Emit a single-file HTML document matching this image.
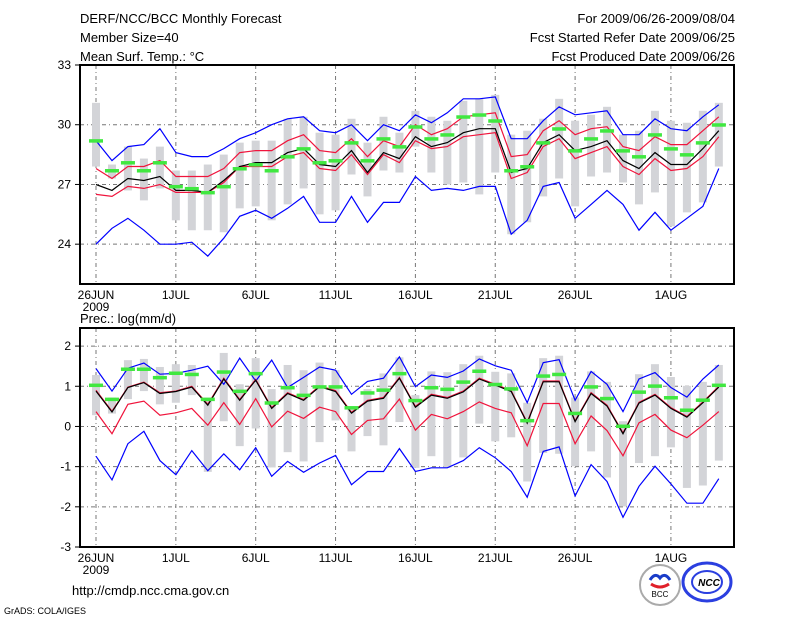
<!DOCTYPE html>
<html><head><meta charset="utf-8"><style>
body{margin:0;background:#fff;}
svg{display:block;}
text{font-family:"Liberation Sans",sans-serif;fill:#000;}
</style></head><body>
<svg id="chart" width="800" height="618" viewBox="0 0 800 618">
<g font-size="13">
<text x="80" y="23">DERF/NCC/BCC Monthly Forecast</text>
<text x="80" y="42">Member Size=40</text>
<text x="80" y="61">Mean Surf. Temp.: °C</text>
<text x="735" y="23" text-anchor="end">For 2009/06/26-2009/08/04</text>
<text x="735" y="42" text-anchor="end">Fcst Started Refer Date 2009/06/25</text>
<text x="735" y="61" text-anchor="end">Fcst Produced Date 2009/06/26</text>
</g>
<text x="80" y="323" font-size="13">Prec.: log(mm/d)</text>
<text x="72" y="595" font-size="13">http://cmdp.ncc.cma.gov.cn</text>
<text x="4" y="614" font-size="9">GrADS: COLA/IGES</text>
<g>
<circle cx="660" cy="585" r="20" fill="#fff" stroke="#aaa" stroke-width="2"/>
<path d="M650 580 q5 -8 10 -2 q5 -6 10 2" stroke="#1a3cc8" stroke-width="3" fill="none"/>
<path d="M651 584 q9 6 18 0" stroke="#e0202a" stroke-width="3" fill="none"/>
<text x="660" y="597" font-size="8" text-anchor="middle" font-family="Liberation Serif,serif">BCC</text>
</g>
<g>
<ellipse cx="707" cy="582" rx="24" ry="19" fill="none" stroke="#2b3fe0" stroke-width="3"/>
<ellipse cx="707" cy="582" rx="15" ry="11" fill="none" stroke="#2b3fe0" stroke-width="2"/>
<text x="709" y="586" font-size="10" font-weight="bold" fill="#2b3fe0" text-anchor="middle" font-style="italic">NCC</text>
</g>
</svg>
<script>
const days = ["26JUN","","","","","1JUL","","","","","6JUL","","","","","11JUL","","","","","16JUL","","","","","21JUL","","","","","26JUL","","","","","","1AUG","","","",""];
const tTicks = [33,30,27,24];
const pTicks = [2,1,0,-1,-2,-3];
const tBlueUp = [29.2,28.2,28.9,29.0,29.8,28.6,28.4,28.4,28.8,29.3,29.6,30.0,30.3,30.4,29.7,29.6,30.0,29.2,30.0,29.7,30.5,30.1,30.6,31.3,31.3,31.4,29.3,29.3,30.2,30.9,30.5,30.6,30.7,29.5,29.5,30.3,29.8,29.7,30.4,31.0];
const tRedUp = [27.8,27.3,27.9,27.9,28.2,27.4,27.4,27.4,27.8,28.6,28.7,28.7,29.2,29.5,28.7,28.6,29.3,28.4,29.2,28.9,30.0,29.5,29.8,30.4,30.5,30.6,28.4,28.5,29.7,30.2,29.5,29.8,29.9,28.9,28.7,29.4,29.0,29.0,29.7,30.4];
const tMean = [27.0,26.7,27.3,27.2,27.4,26.7,26.7,26.6,27.2,27.9,28.1,28.1,28.6,28.8,28.0,27.9,28.7,27.6,28.6,28.3,29.4,28.9,29.1,29.6,29.8,29.8,27.6,27.8,29.1,29.5,28.7,28.9,29.2,28.2,27.8,28.6,28.0,28.0,28.8,29.7];
const tRedLo = [26.5,26.4,26.9,26.8,27.0,26.6,26.6,26.6,27.1,27.9,27.9,27.9,28.4,28.6,27.8,27.7,28.5,27.5,28.5,28.1,29.2,28.8,28.9,29.4,29.5,29.6,27.3,27.6,28.9,29.3,28.3,28.6,28.9,27.9,27.5,28.3,27.7,27.8,28.4,29.4];
const tBlueLo = [24.0,24.8,25.3,24.7,24.0,24.0,24.1,23.4,24.3,25.4,25.7,25.3,25.8,26.4,25.1,25.1,26.4,25.1,26.1,26.1,27.4,26.7,26.8,26.7,26.9,26.9,24.5,25.2,26.9,27.1,25.3,26.0,26.7,26.0,24.7,25.6,24.7,25.3,25.9,27.8];
const tBarHi = [31.1,28.0,28.9,28.3,28.9,27.7,27.7,28.0,28.5,29.1,29.2,29.2,30.3,30.4,29.6,29.5,30.3,29.1,30.4,29.6,30.7,30.4,30.2,31.2,31.3,31.5,29.5,29.7,30.3,31.3,30.2,30.5,30.9,29.5,29.7,30.7,30.2,30.1,30.7,31.1];
const tBarLo = [27.9,27.3,26.7,26.2,26.8,25.2,24.7,24.7,24.6,25.8,25.9,25.2,26.0,26.8,25.5,25.7,27.5,26.4,27.7,27.6,28.9,27.6,27.0,27.1,26.5,27.6,24.5,25.1,26.4,27.3,25.9,27.4,27.6,27.1,26.0,26.6,24.9,25.6,26.1,27.9];
const tObs = [29.2,27.7,28.1,27.7,28.1,26.9,26.8,26.6,26.9,27.8,28.0,27.7,28.4,28.8,28.1,28.2,29.1,28.2,29.3,28.9,29.9,29.3,29.5,30.4,30.5,30.2,27.7,27.9,29.1,29.8,28.7,29.3,29.7,28.7,28.4,29.5,28.8,28.5,29.1,30.0];
const pBlueUp = [1.44,0.88,1.45,1.58,1.30,1.32,1.40,1.50,1.05,1.70,1.13,1.65,0.97,1.22,1.48,1.40,0.80,1.12,1.20,1.73,0.99,1.28,1.22,1.38,1.68,1.51,1.40,0.59,1.59,1.66,0.65,1.37,1.05,0.37,1.18,1.34,0.97,0.73,1.18,1.53];
const pRedUp = [0.90,0.38,0.98,1.10,0.84,0.88,1.00,0.55,1.20,0.67,1.17,0.47,0.84,0.67,1.01,0.89,0.35,0.65,0.72,1.22,0.50,0.80,0.72,0.88,1.20,1.05,0.89,0.10,1.13,1.13,0.14,0.84,0.53,-0.16,0.60,0.80,0.47,0.25,0.61,1.00];
const pMean = [0.88,0.36,0.97,1.09,0.82,0.87,0.98,0.53,1.18,0.65,1.15,0.45,0.82,0.65,0.99,0.87,0.33,0.63,0.70,1.20,0.48,0.78,0.70,0.86,1.18,1.03,0.87,0.08,1.11,1.11,0.12,0.82,0.51,-0.18,0.58,0.78,0.45,0.23,0.59,0.98];
const pRedLo = [0.37,-0.18,0.55,0.63,0.28,0.34,0.45,0.03,0.59,0.05,0.69,-0.01,0.38,0.20,0.48,0.37,-0.20,0.15,0.19,0.68,-0.09,0.30,0.19,0.37,0.61,0.45,0.34,-0.48,0.57,0.57,-0.43,0.26,-0.10,-0.73,0.09,0.30,-0.09,-0.28,0.03,0.37];
const pBlueLo = [-0.74,-1.33,-0.43,-0.12,-0.85,-1.20,-0.60,-1.10,-0.68,-1.08,-0.53,-1.24,-0.87,-1.14,-0.91,-0.72,-1.45,-1.12,-1.12,-0.55,-1.12,-1.03,-1.03,-0.85,-0.53,-0.78,-1.12,-1.76,-0.62,-0.51,-1.73,-0.95,-1.37,-2.26,-1.49,-0.99,-1.43,-1.91,-1.91,-1.30];
const pBarHi = [1.28,0.72,1.65,1.68,1.48,1.55,1.53,0.72,1.83,1.05,1.70,0.93,1.53,1.40,1.59,1.40,0.47,0.93,1.32,1.72,0.78,1.37,1.35,1.55,1.76,1.36,1.32,0.59,1.70,1.76,0.72,1.37,1.11,0.13,1.30,1.55,1.23,1.01,1.11,1.53];
const pBarLo = [0.28,0.32,0.68,0.88,0.55,0.59,0.78,-1.13,0.13,-0.49,-0.05,-1.02,-0.64,-0.87,-0.39,0.15,-0.62,-0.24,-0.47,0.11,-1.03,-0.74,-1.03,-0.77,0.07,-0.37,-0.27,-1.37,-0.66,-0.68,-0.99,-0.62,-1.27,-1.99,-0.91,-0.74,-0.52,-1.53,-1.47,-0.85];
const pObs = [1.03,0.68,1.43,1.43,1.22,1.33,1.30,0.68,1.36,0.88,1.32,0.59,0.97,0.78,0.99,0.99,0.47,0.84,0.91,1.32,0.65,0.97,0.93,1.11,1.38,1.05,0.94,0.15,1.26,1.30,0.33,0.99,0.70,0.01,0.86,1.01,0.72,0.41,0.66,1.03];

const NS = "http://www.w3.org/2000/svg";
const svg = document.getElementById('chart');
const X0 = 96, DX = 15.97, L = 80, R = 734;
function xS(i){ return X0 + i*DX; }
function mk(tag, attrs, parent){ const e = document.createElementNS(NS, tag); for (const k in attrs) e.setAttribute(k, attrs[k]); (parent||svg).appendChild(e); return e; }

function panel(name, top, bottom, vmax, vmin, ticks, series){
  const yS = v => top + (vmax - v) * (bottom - top) / (vmax - vmin);
  const g = mk('g', {});
  
  
  // grid
  ticks.forEach(t => {
    const y = yS(t);
    if (t !== vmax && t !== vmin) {
      const gl = mk('line', {x1:L, x2:R, y1:y, y2:y, stroke:'#777', 'stroke-width':1, 'stroke-dasharray':'4,3,1,3'}, g);
      
      
    }
    const tk = mk('line', {x1:L-5, x2:L, y1:y, y2:y, stroke:'#000', 'stroke-width':1}, g);
    
    
    const tx = mk('text', {x:L-9, y:y+4, 'text-anchor':'end', 'font-size':12}, g);
    tx.textContent = String(t);
    
    
  });
  days.forEach((d, i) => {
    if (!d) return;
    const x = xS(i);
    const gl = mk('line', {x1:x, x2:x, y1:top, y2:bottom, stroke:'#777', 'stroke-width':1, 'stroke-dasharray':'4,3,1,3'}, g);
    
    
    const tx = mk('text', {x:x, y:bottom+15, 'text-anchor':'middle', 'font-size':12}, g);
    tx.textContent = d;
    
    
  });
  const yr = mk('text', {x:xS(0), y:bottom+27, 'text-anchor':'middle', 'font-size':12}, g);
  yr.textContent = '2009';
  
  
  // bars
  series.hi.forEach((h, i) => {
    const y1 = yS(h), y2 = yS(series.lo[i]);
    const b = mk('rect', {x:xS(i)-4, y:y1, width:8, height:Math.max(1, y2-y1), fill:'#d3d4d8'}, g);
    
    
  });
  const line = (arr, color, nm) => {
    const p = mk('polyline', {points: arr.map((v,i)=>xS(i).toFixed(1)+','+yS(v).toFixed(1)).join(' '), fill:'none', stroke:color, 'stroke-width':1.2}, g);
    
    
  };
  line(series.blueUp, '#0000ff', name + '-blue-upper-line');
  line(series.blueLo, '#0000ff', name + '-blue-lower-line');
  line(series.redUp, '#f0143c', name + '-red-upper-line');
  line(series.redLo, '#f0143c', name + '-red-lower-line');
  line(series.mean, '#000000', name + '-mean-line');
  series.obs.forEach((v, i) => {
    const o = mk('rect', {x:xS(i)-7, y:yS(v)-1.5, width:14, height:3.5, fill:'#40e840'}, g);
    
    
  });
  const f = mk('rect', {x:L, y:top, width:R-L, height:bottom-top, fill:'none', stroke:'#000', 'stroke-width':2}, g);
  
  
}
panel('temperature', 65, 284, 33, 22, tTicks, {hi:tBarHi, lo:tBarLo, blueUp:tBlueUp, blueLo:tBlueLo, redUp:tRedUp, redLo:tRedLo, mean:tMean, obs:tObs});
panel('precip', 328, 547, 2.45, -3, pTicks, {hi:pBarHi, lo:pBarLo, blueUp:pBlueUp, blueLo:pBlueLo, redUp:pRedUp, redLo:pRedLo, mean:pMean, obs:pObs});
</script>
</body></html>
